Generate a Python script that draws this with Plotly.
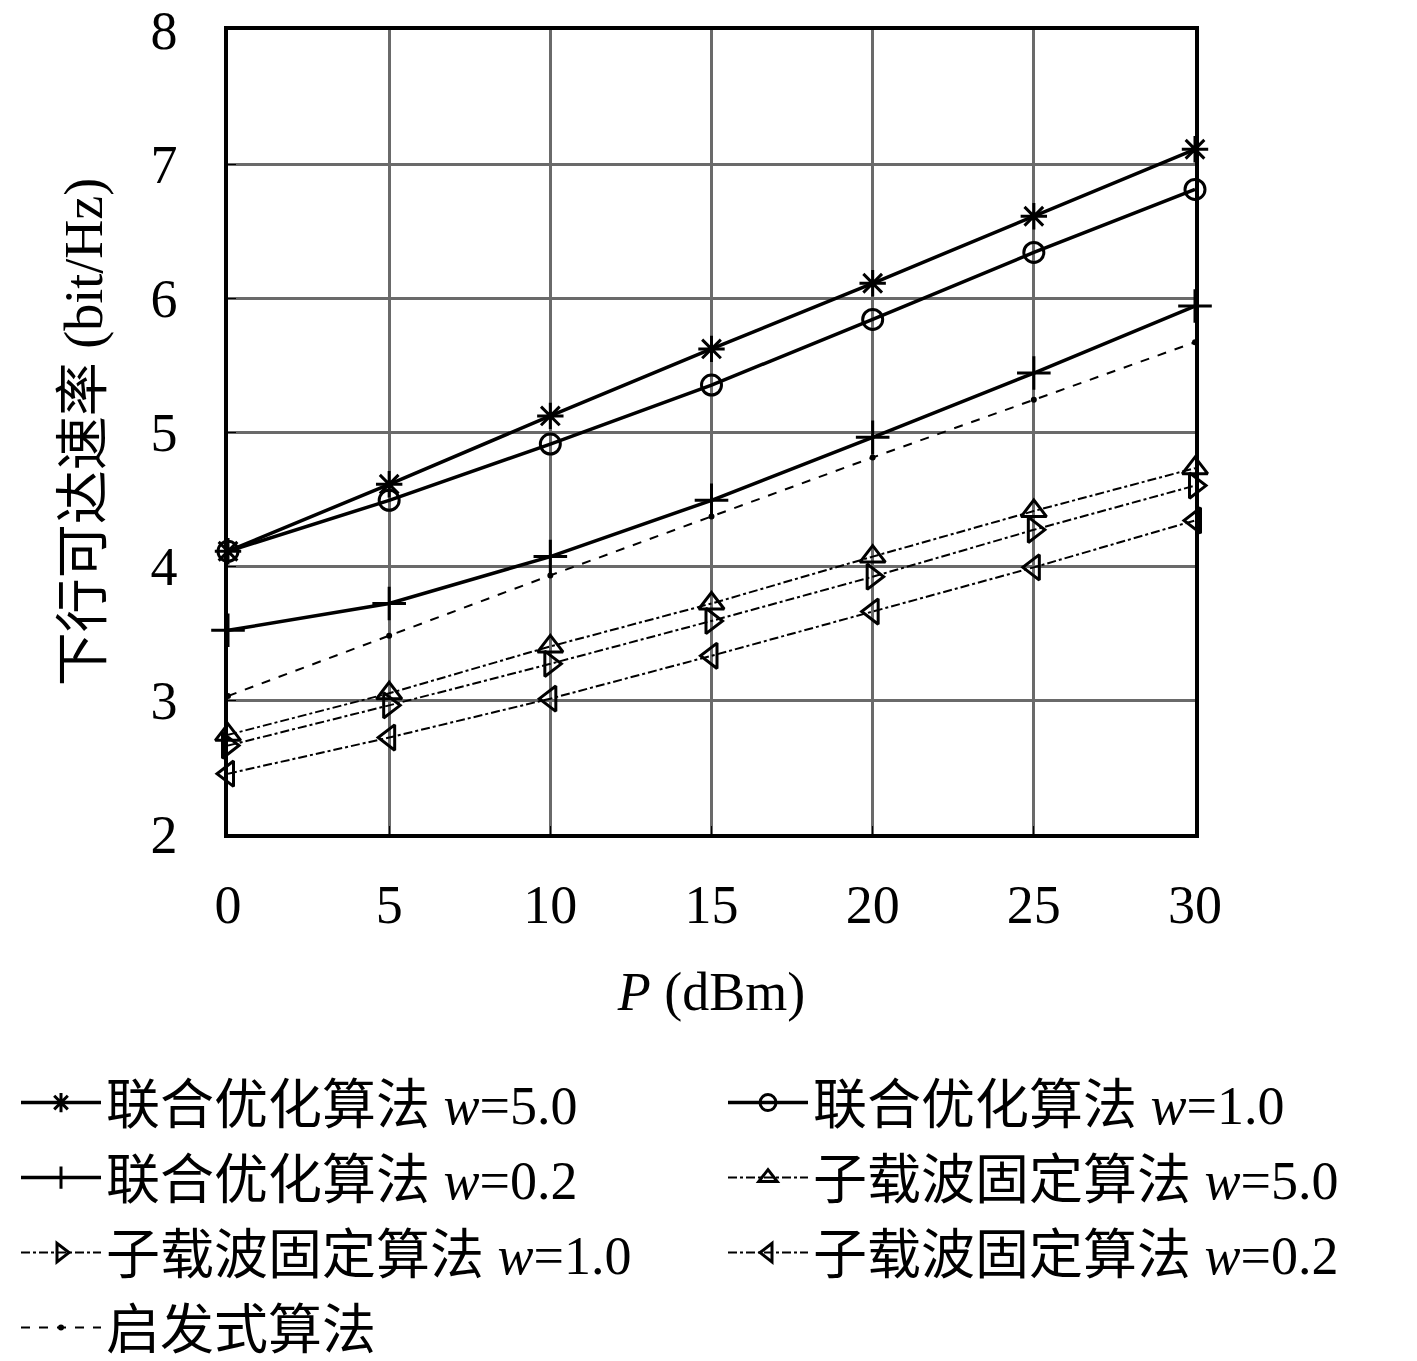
import plotly.graph_objects as go

# transmit power (dBm)
power = [0, 5, 10, 15, 20, 25, 30]

# downlink achievable rate (bit/Hz)
joint_w50 = [4.11, 4.61, 5.12, 5.62, 6.11, 6.61, 7.11]
joint_w10 = [4.11, 4.49, 4.91, 5.35, 5.84, 6.34, 6.81]
joint_w02 = [3.52, 3.72, 4.07, 4.49, 4.96, 5.44, 5.94]
sub_w50 = [2.74, 3.05, 3.40, 3.72, 4.07, 4.41, 4.73]
sub_w10 = [2.66, 2.96, 3.27, 3.59, 3.92, 4.27, 4.60]
sub_w02 = [2.45, 2.72, 3.01, 3.33, 3.66, 3.99, 4.34]
heuristic = [3.03, 3.48, 3.93, 4.37, 4.81, 5.24, 5.67]

names = [
    "联合优化算法 <i>w</i>=5.0",
    "联合优化算法 <i>w</i>=1.0",
    "联合优化算法 <i>w</i>=0.2",
    "子载波固定算法 <i>w</i>=5.0",
    "子载波固定算法 <i>w</i>=1.0",
    "子载波固定算法 <i>w</i>=0.2",
    "启发式算法",
]

FONT = "Liberation Serif, Noto Sans CJK SC, serif"
W, H = 1417, 1361

fig = go.Figure()

series = [
    (joint_w50, "asterisk-open", "solid", 3.5, 22),
    (joint_w10, "circle-open", "solid", 3.5, 20),
    (joint_w02, "cross-thin-open", "solid", 3.5, 24),
    (sub_w50, "triangle-up-open", "dashdot", 2, 22),
    (sub_w10, "triangle-right-open", "dashdot", 2, 22),
    (sub_w02, "triangle-left-open", "dashdot", 2, 22),
    (heuristic, "circle", "dash", 2, 3),
]

# one legend per entry, laid out as two columns under the plot
legend_pos = [(8, 1095), (715, 1095), (8, 1170), (715, 1170),
              (8, 1245), (715, 1245), (8, 1320)]

legends = {}
for i, (nm, (ys, sym, dash, lw, ms)) in enumerate(zip(names, series)):
    key = "legend" if i == 0 else f"legend{i + 1}"
    fig.add_trace(go.Scatter(
        x=power, y=ys, name=nm, mode="lines+markers", cliponaxis=False,
        line=dict(color="black", width=lw, dash=dash),
        marker=dict(symbol=sym, size=ms, color="black",
                    line=dict(color="black", width=3)),
        legend=key, showlegend=True,
    ))
    px, py = legend_pos[i]
    legends[key] = dict(orientation="h", xref="container", yref="container",
                        x=px / W, xanchor="left", y=1 - py / H, yanchor="middle",
                        itemwidth=80,
                        font=dict(family=FONT, size=54, color="black"),
                        bgcolor="rgba(0,0,0,0)")

axis_common = dict(
    showgrid=True, gridcolor="#6a6a6a", gridwidth=3,
    showline=True, linecolor="black", linewidth=3.5, mirror=True,
    zeroline=False, ticks="inside", ticklen=8, tickcolor="black",
    ticklabeloverflow="allow",
    tickfont=dict(family=FONT, size=54, color="black"),
)

fig.update_xaxes(range=[0, 30], dtick=5, tick0=0, ticklabelstandoff=20,
                 title=dict(text="<i>P</i> (dBm)", standoff=40,
                            font=dict(family=FONT, size=54, color="black")),
                 **axis_common)
fig.update_yaxes(range=[2, 8], dtick=1, ticklabelstandoff=36,
                 title=dict(text="下行可达速率 (bit/Hz)", standoff=32,
                            font=dict(family=FONT, size=54, color="black")),
                 **axis_common)

fig.update_layout(
    width=W, height=H,
    margin=dict(l=220, r=230, t=22, b=535, autoexpand=False),
    plot_bgcolor="white", paper_bgcolor="white",
    font=dict(family=FONT, color="black"),
    showlegend=True,
    **legends,
)

fig.write_html("out.html")
